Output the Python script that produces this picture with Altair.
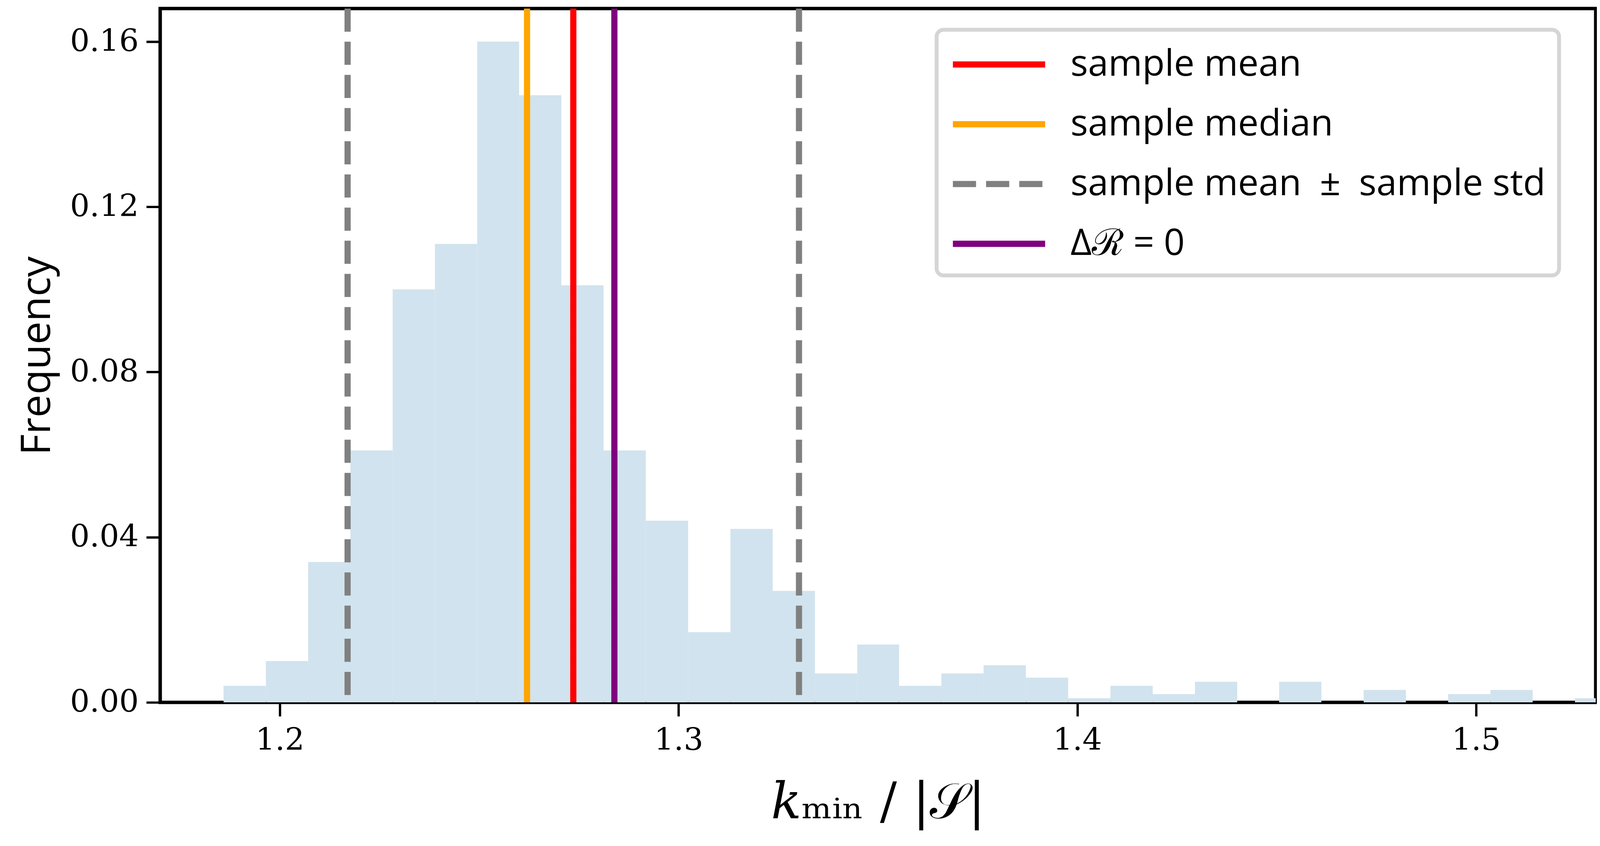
import altair as alt
import pandas as pd

# histogram bin edges and normalised frequencies
bin_edges = [1.1859, 1.1965, 1.2071, 1.2177, 1.2283, 1.2389, 1.2495, 1.2600,
             1.2706, 1.2812, 1.2918, 1.3024, 1.3130, 1.3236, 1.3342, 1.3448,
             1.3553, 1.3659, 1.3765, 1.3871, 1.3977, 1.4083, 1.4189, 1.4295,
             1.4401, 1.4506, 1.4612, 1.4718, 1.4824, 1.4930, 1.5036, 1.5142,
             1.5248, 1.5354]
freq = [0.004, 0.010, 0.034, 0.061, 0.100, 0.111, 0.160, 0.147, 0.101, 0.061,
        0.044, 0.017, 0.042, 0.027, 0.007, 0.014, 0.004, 0.007, 0.009, 0.006,
        0.001, 0.004, 0.002, 0.005, 0.000, 0.005, 0.000, 0.003, 0.000, 0.002,
        0.003, 0.000, 0.001]

# reference lines
line_values = [1.2736, 1.2620, 1.2170, 1.3302, 1.2839]
std_label = "sample mean\u2002±\u2002sample std"
line_labels = ["sample mean", "sample median", std_label, std_label, "Δℛ = 0"]
legend_order = ["sample mean", "sample median", std_label, "Δℛ = 0"]
legend_colors = ["#ff0000", "#ffa500", "#808080", "#800080"]
legend_dashes = [[1, 0], [1, 0], [60, 26], [1, 0]]

x_ticks = [1.2, 1.3, 1.4, 1.5]
y_ticks = [0.0, 0.04, 0.08, 0.12, 0.16]

bars_df = pd.DataFrame({"x0": bin_edges[:-1], "x1": bin_edges[1:], "freq": freq})
lines_df = pd.DataFrame({"x": line_values, "label": line_labels})

xscale = alt.Scale(domain=[1.17, 1.53], nice=False, zero=False)
yscale = alt.Scale(domain=[0, 0.168], nice=False, zero=True)

bars = alt.Chart(bars_df).mark_rect(color="#d1e3ee", clip=True).encode(
    x=alt.X("x0:Q", scale=xscale,
            axis=alt.Axis(values=x_ticks, format=".1f", title="𝑘ₘᵢₙ / |𝒮|",
                          titleFont="DejaVu Serif", titleFontSize=130,
                          titleFontWeight="normal", titlePadding=58,
                          labelPadding=24)),
    x2="x1:Q",
    y=alt.Y("freq:Q", scale=yscale,
            axis=alt.Axis(values=y_ticks, format=".2f", title="Frequency",
                          titleFont="Open Sans", titleFontSize=106,
                          titleFontWeight="normal", titleX=-264, titleY=900,
                          titleAngle=270, titleBaseline="bottom", titleAlign="center",
                          labelPadding=20)),
    y2=alt.datum(0),
)

# custom stroke symbol: long horizontal line starting at the slot's left edge
leg = alt.Legend(title=None, orient="none", legendX=2012, legendY=55,
                 symbolType="M-1,0H4", symbolSize=9140, symbolStrokeWidth=16,
                 labelFont="Open Sans", labelFontSize=95, labelLimit=3000,
                 labelOffset=201, rowPadding=51, padding=34,
                 fillColor="white", strokeColor="#d5d5d5", cornerRadius=18)

rules = alt.Chart(lines_df).mark_rule(strokeWidth=16).encode(
    x=alt.X("x:Q", scale=xscale),
    color=alt.Color("label:N", scale=alt.Scale(domain=legend_order, range=legend_colors),
                    legend=leg),
    strokeDash=alt.StrokeDash("label:N",
                              scale=alt.Scale(domain=legend_order, range=legend_dashes),
                              legend=leg),
)

chart = alt.layer(bars, rules).properties(
    width=3720, height=1799,
    padding={"left": 407, "top": 1, "right": 3, "bottom": 330},
    autosize=alt.AutoSizeParams(type="none"),
).configure_view(
    stroke="black", strokeWidth=9
).configure_axis(
    domain=False, grid=False, ticks=True, tickColor="black", tickWidth=6,
    tickSize=36, labelFont="DejaVu Serif", labelFontSize=80,
    labelColor="black", titleColor="black",
).configure_legend(
    strokeWidth=10
)

chart.save("out.html", embed_options={"renderer": "svg", "actions": False})
